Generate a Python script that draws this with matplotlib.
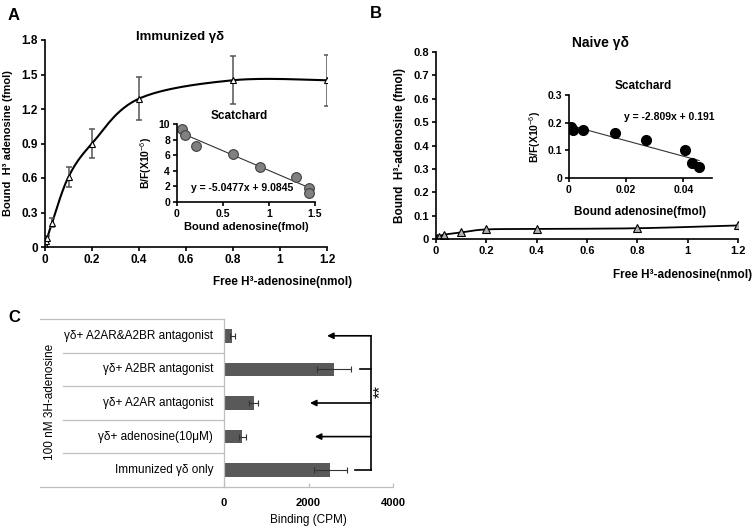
import numpy as np
import matplotlib
matplotlib.use("Agg")
import matplotlib.pyplot as plt

plt.rcParams['font.family'] = ['Liberation Sans', 'DejaVu Sans']
plt.rcParams['mathtext.fontset'] = 'custom'
plt.rcParams['mathtext.rm'] = 'Liberation Sans'
plt.rcParams['mathtext.bf'] = 'Liberation Sans:bold'

# ---- data ----
free_conc = [0, 0.005, 0.01, 0.03, 0.1, 0.2, 0.4, 0.8, 1.2]
immunized_bound = [0.02, 0.05, 0.08, 0.21, 0.61, 0.90, 1.29, 1.45, 1.45]
immunized_err = [0.0, 0.0, 0.02, 0.04, 0.09, 0.13, 0.19, 0.21, 0.22]
naive_bound = [0.002, 0.005, 0.008, 0.018, 0.028, 0.041, 0.043, 0.046, 0.058]

scat_a_x = [0.05, 0.09, 0.21, 0.61, 0.90, 1.29, 1.44, 1.44]
scat_a_y = [9.4, 8.6, 7.2, 6.15, 4.5, 3.2, 1.8, 1.2]
scat_a_fit = (-5.0477, 9.0845)

scat_b_x = [0.0008, 0.0015, 0.005, 0.0162, 0.027, 0.0405, 0.043, 0.0455]
scat_b_y = [0.185, 0.175, 0.172, 0.163, 0.137, 0.102, 0.055, 0.040]
scat_b_fit = (-2.809, 0.191)

treatments = ["Immunized γδ only", "γδ+ adenosine(10μM)", "γδ+ A2AR antagonist",
              "γδ+ A2BR antagonist", "γδ+ A2AR&A2BR antagonist"]
binding = [2520, 430, 700, 2600, 200]
binding_err = [380, 80, 100, 400, 50]
# arrow ends (CPM) per row, plain line where there is no head
arrow_to = [3100, 2150, 2035, 3220, 2440]
arrow_head = [False, True, True, False, True]
bracket_x = 3480

W, H = 755, 530


def rect(x0, y0, x1, y1):
    return [x0 / W, 1 - y1 / H, (x1 - x0) / W, (y1 - y0) / H]


def fpos(x, y):
    return x / W, 1 - y / H


def smooth(xs, ys, sx, sy, n=30):
    # excel-like smoothed line (parametric catmull-rom bezier)
    p = np.column_stack([np.array(xs) * sx, np.array(ys) * sy])
    pts = np.vstack([p[0], p, p[-1]])
    out = []
    t = np.linspace(0, 1, n)[:, None]
    for i in range(1, len(pts) - 2):
        p0, p1, p2, p3 = pts[i - 1], pts[i], pts[i + 1], pts[i + 2]
        c1 = p1 + (p2 - p0) / 6
        c2 = p2 - (p3 - p1) / 6
        seg = ((1 - t) ** 3) * p1 + 3 * ((1 - t) ** 2) * t * c1 + 3 * (1 - t) * t ** 2 * c2 + t ** 3 * p2
        out.append(seg)
    out = np.vstack(out)
    return out[:, 0] / sx, out[:, 1] / sy


def style_axes(ax, size=8):
    for s in ['top', 'right']:
        ax.spines[s].set_visible(False)
    for s in ['left', 'bottom']:
        ax.spines[s].set_linewidth(1.2)
    ax.tick_params(direction='out', length=3, width=1.2, labelsize=size, pad=2)
    for lab in ax.get_xticklabels() + ax.get_yticklabels():
        lab.set_fontweight('bold')


fig = plt.figure(figsize=(W / 100, H / 100), dpi=100)

# ---- panel A ----
axA = fig.add_axes(rect(45, 40, 327, 247))
cx, cy = smooth(free_conc, immunized_bound, 282 / 1.2, 207 / 1.8)
axA.plot(cx, cy, color='black', lw=1.5)
axA.errorbar(free_conc, immunized_bound, yerr=immunized_err, fmt='none',
             ecolor='#555555', elinewidth=1.1, capsize=2.5, capthick=1.1)
axA.plot(free_conc, immunized_bound, ls='none', marker='^', ms=5,
         mfc='white', mec='black', mew=0.8)
axA.set_xlim(0, 1.2)
axA.set_ylim(0, 1.8)
axA.set_xticks([0, 0.2, 0.4, 0.6, 0.8, 1, 1.2])
axA.set_xticklabels(['0', '0.2', '0.4', '0.6', '0.8', '1', '1.2'])
axA.set_yticks([0, 0.3, 0.6, 0.9, 1.2, 1.5, 1.8])
axA.set_yticklabels(['0', '0.3', '0.6', '0.9', '1.2', '1.5', '1.8'])
style_axes(axA, 8.5)
axA.set_ylabel('Bound  H³ adenosine (fmol)', fontsize=8, fontweight='bold', labelpad=6)
fig.text(*fpos(352, 282), 'Free H³-adenosine(nmol)', fontsize=8.5, fontweight='bold',
         ha='right', va='center')
fig.text(*fpos(180, 37), 'Immunized γδ', fontsize=9.5, fontweight='bold',
         ha='center', va='center')
fig.text(*fpos(8, 16), 'A', fontsize=12, fontweight='bold', va='center')

# inset A
axAi = fig.add_axes(rect(177, 124, 315, 202))
xf = np.array([0.02, 1.44])
axAi.plot(xf, scat_a_fit[0] * xf + scat_a_fit[1], color='#333333', lw=0.8)
axAi.plot(scat_a_x, scat_a_y, ls='none', marker='o', ms=7,
          mfc='#808080', mec='#404040', mew=0.8)
axAi.set_xlim(0, 1.5)
axAi.set_ylim(0, 10)
axAi.set_xticks([0, 0.5, 1, 1.5])
axAi.set_xticklabels(['0', '0.5', '1', '1.5'])
axAi.set_yticks([0, 2, 4, 6, 8, 10])
style_axes(axAi, 7.5)
axAi.set_ylabel('B/F(X10$^{-6}$)', fontsize=7.5, fontweight='bold', labelpad=3)
axAi.set_xlabel('Bound adenosine(fmol)', fontsize=8, fontweight='bold', labelpad=2)
axAi.text(0.45, 1.02, 'Scatchard', transform=axAi.transAxes, fontsize=8.5,
          fontweight='bold', ha='center', va='bottom')
axAi.text(0.1, 0.18, 'y = -5.0477x + 9.0845', transform=axAi.transAxes,
          fontsize=7.5, fontweight='bold', ha='left', va='center')
axAi.patch.set_alpha(0)

# ---- panel B ----
axB = fig.add_axes(rect(436, 52, 738, 239))
bx, by = smooth(free_conc, naive_bound, 302 / 1.2, 187 / 0.8)
axB.plot(bx, by, color='black', lw=1.3)
axB.plot(free_conc, naive_bound, ls='none', marker='^', ms=6,
         mfc='#b0b0b0', mec='black', mew=0.8)
axB.set_xlim(0, 1.2)
axB.set_ylim(0, 0.8)
axB.set_xticks([0, 0.2, 0.4, 0.6, 0.8, 1, 1.2])
axB.set_xticklabels(['0', '0.2', '0.4', '0.6', '0.8', '1', '1.2'])
axB.set_yticks([0, 0.1, 0.2, 0.3, 0.4, 0.5, 0.6, 0.7, 0.8])
axB.set_yticklabels(['0', '0.1', '0.2', '0.3', '0.4', '0.5', '0.6', '0.7', '0.8'])
style_axes(axB, 8)
axB.set_ylabel('Bound  H³-adenosine (fmol)', fontsize=8.5, fontweight='bold', labelpad=5)
fig.text(*fpos(752, 275), 'Free H³-adenosine(nmol)', fontsize=8.5, fontweight='bold',
         ha='right', va='center')
fig.text(*fpos(600, 43), 'Naive γδ', fontsize=10, fontweight='bold',
         ha='center', va='center')
fig.text(*fpos(370, 14), 'B', fontsize=12, fontweight='bold', va='center')

# inset B
axBi = fig.add_axes(rect(569, 95, 712, 178))
xf = np.array([0.001, 0.0455])
axBi.plot(xf, scat_b_fit[0] * xf + scat_b_fit[1], color='#333333', lw=0.8)
axBi.plot(scat_b_x, scat_b_y, ls='none', marker='o', ms=7,
          mfc='black', mec='black')
axBi.set_xlim(0, 0.05)
axBi.set_ylim(0, 0.3)
axBi.set_xticks([0, 0.02, 0.04])
axBi.set_xticklabels(['0', '0.02', '0.04'])
axBi.set_yticks([0, 0.1, 0.2, 0.3])
axBi.set_yticklabels(['0', '0.1', '0.2', '0.3'])
style_axes(axBi, 7.5)
axBi.set_ylabel('B/F(X10$^{-6}$)', fontsize=7.5, fontweight='bold', labelpad=3)
axBi.set_xlabel('Bound adenosine(fmol)', fontsize=8.5, fontweight='bold', labelpad=8)
axBi.text(0.52, 1.04, 'Scatchard', transform=axBi.transAxes, fontsize=8.5,
          fontweight='bold', ha='center', va='bottom')
axBi.text(0.70, 0.74, 'y = -2.809x + 0.191', transform=axBi.transAxes,
          fontsize=7.5, fontweight='bold', ha='center', va='center')
axBi.patch.set_alpha(0)

# ---- panel C ----
axC = fig.add_axes(rect(224, 319, 393, 487))
ypos = np.arange(len(treatments))
axC.barh(ypos, binding, height=0.4, color='#595959')
axC.errorbar(binding, ypos, xerr=binding_err, fmt='none', ecolor='#333333',
             elinewidth=0.8, capsize=2, capthick=0.8)
axC.set_xlim(0, 4000)
axC.set_ylim(-0.5, len(treatments) - 0.5)
axC.set_xticks([0, 2000, 4000])
axC.set_yticks([])
for s in ['top', 'right']:
    axC.spines[s].set_visible(False)
axC.spines['left'].set_color('#bfbfbf')
axC.spines['left'].set_linewidth(0.9)
axC.spines['bottom'].set_color('#bfbfbf')
axC.spines['bottom'].set_linewidth(0.9)
axC.tick_params(axis='x', direction='in', length=3, color='#bfbfbf', width=0.9,
                labelsize=8, pad=8)
for lab in axC.get_xticklabels():
    lab.set_fontweight('bold')
# category grid lines extending to the left
x_left = (40 - 224) / 169
x_sep = (63 - 224) / 169
tr = axC.get_yaxis_transform()
axC.plot([x_left, 0], [-0.5, -0.5], transform=tr, color='#bfbfbf', lw=0.9, clip_on=False)
axC.plot([x_left, 0], [len(treatments) - 0.5] * 2, transform=tr, color='#bfbfbf',
         lw=0.9, clip_on=False)
for k in range(len(treatments) - 1):
    axC.plot([x_sep, 0], [k + 0.5, k + 0.5], transform=tr, color='#bfbfbf',
             lw=0.9, clip_on=False)
for k, name in enumerate(treatments):
    axC.text(-0.065, k, name, transform=tr, fontsize=8.5, ha='right', va='center')
axC.set_xlabel('Binding (CPM)', fontsize=8.5, labelpad=4)
fig.text(*fpos(50, 402), '100 nM 3H-adenosine', fontsize=8.5, rotation=90,
         ha='center', va='center')

# bracket and arrows
axC.plot([bracket_x, bracket_x], [ypos[0], ypos[-1]], color='black', lw=1.2,
         clip_on=False)
for k in ypos:
    if arrow_head[k]:
        axC.annotate('', xy=(arrow_to[k], k), xytext=(bracket_x, k),
                     arrowprops=dict(arrowstyle='-|>', color='black', lw=1.2,
                                     mutation_scale=9, shrinkA=0, shrinkB=0),
                     annotation_clip=False)
    else:
        axC.plot([arrow_to[k], bracket_x], [k, k], color='black', lw=1.2, clip_on=False)
axC.text(3700, 2.35, '**', fontsize=12, rotation=90, ha='center', va='center')
fig.text(*fpos(8, 318), 'C', fontsize=12, fontweight='bold', va='center')

fig.savefig('out.png', dpi=100)
